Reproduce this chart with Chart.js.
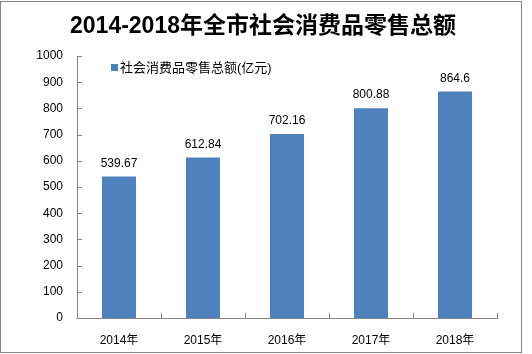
<!DOCTYPE html>
<html>
<head>
<meta charset="utf-8">
<script src="https://cdn.jsdelivr.net/npm/chart.js@4/dist/chart.umd.min.js"></script>
<style>
  html, body { margin: 0; padding: 0; background: #fff; }
  #wrap { width: 532px; height: 354px; position: relative; }
</style>
</head>
<body>
<div id="wrap"><canvas id="chart"></canvas></div>
<script>
const chartTitle = '2014-2018年全市社会消费品零售总额'
const years = ['2014年', '2015年', '2016年', '2017年', '2018年']
const sales = [539.67, 612.84, 702.16, 800.88, 864.6]
const salesLabels = ['539.67', '612.84', '702.16', '800.88', '864.6']
const yTicks = [0, 100, 200, 300, 400, 500, 600, 700, 800, 900, 1000]

const barColor = '#4F81BD'
const axisColor = '#868686'
const fontFamily = '"Liberation Sans", "Noto Sans CJK SC", sans-serif'

// frame, title, inward ticks, value labels and legend
const extras = {
        id: 'extras',
        beforeDraw(chart) {
                const c = chart.ctx
                c.save()
                c.strokeStyle = axisColor
                c.lineWidth = 1
                c.strokeRect(0.5, 1.5, 521, 351)
                c.fillStyle = '#000'
                c.font = 'bold 23px ' + fontFamily
                c.textAlign = 'center'
                c.textBaseline = 'middle'
                c.fillText(chartTitle, 263, 27)
                c.restore()
        },
        afterDraw(chart) {
                const c = chart.ctx
                const x = chart.scales.x
                const y = chart.scales.y
                c.save()
                c.strokeStyle = axisColor
                c.lineWidth = 1
                c.beginPath()
                y.ticks.forEach((t, i) => {
                        const py = Math.round(y.getPixelForTick(i)) + 0.5
                        c.moveTo(x.left, py)
                        c.lineTo(x.left + 5, py)
                })
                for (let i = 0; i < years.length; i++) {
                        const px = Math.round(x.getPixelForValue(i + 0.5)) + 0.5
                        c.moveTo(px, y.bottom)
                        c.lineTo(px, y.bottom - 5)
                }
                c.stroke()

                // value labels
                const meta = chart.getDatasetMeta(0)
                c.fillStyle = '#000'
                c.font = '12px ' + fontFamily
                c.textAlign = 'center'
                c.textBaseline = 'middle'
                meta.data.forEach((bar, i) => {
                        c.fillText(salesLabels[i], bar.x, bar.y - 13)
                })

                // legend
                const ds = chart.data.datasets[0]
                c.fillStyle = ds.backgroundColor
                c.fillRect(111, 64, 7, 7)
                c.fillStyle = '#000'
                c.font = '13px ' + fontFamily
                c.textAlign = 'left'
                c.fillText(ds.label, 120, 68)
                c.restore()
        }
}

const ctx = document.getElementById('chart').getContext('2d')

new Chart(ctx, {
        type: 'bar',
        data: {
                labels: years,
                datasets: [{
                        label: '社会消费品零售总额(亿元)',
                        data: sales,
                        backgroundColor: barColor,
                        barPercentage: 0.405,
                        categoryPercentage: 1
                }]
        },
        options: {
                responsive: true,
                maintainAspectRatio: false,
                animation: false,
                events: [],
                layout: {
                        padding: { left: 0, right: 35, top: 56, bottom: 0 }
                },
                plugins: {
                        legend: { display: false },
                        tooltip: { enabled: false },
                        title: { display: false }
                },
                scales: {
                        x: {
                                grid: { display: false, drawTicks: false },
                                border: { display: true, color: axisColor },
                                ticks: {
                                        color: '#000',
                                        font: { family: fontFamily, size: 12 },
                                        padding: 15
                                },
                                afterFit: s => { s.height = 36 }
                        },
                        y: {
                                min: 0,
                                max: 1000,
                                grid: { display: false, drawTicks: false },
                                border: { display: true, color: axisColor },
                                ticks: {
                                        stepSize: 100,
                                        color: '#000',
                                        font: { family: fontFamily, size: 12 },
                                        padding: 14,
                                        callback: v => String(v)
                                },
                                afterBuildTicks: s => { s.ticks = yTicks.map(v => ({ value: v })) },
                                afterFit: s => { s.width = 77 }
                        }
                }
        },
        plugins: [extras]
})
</script>
</body>
</html>
